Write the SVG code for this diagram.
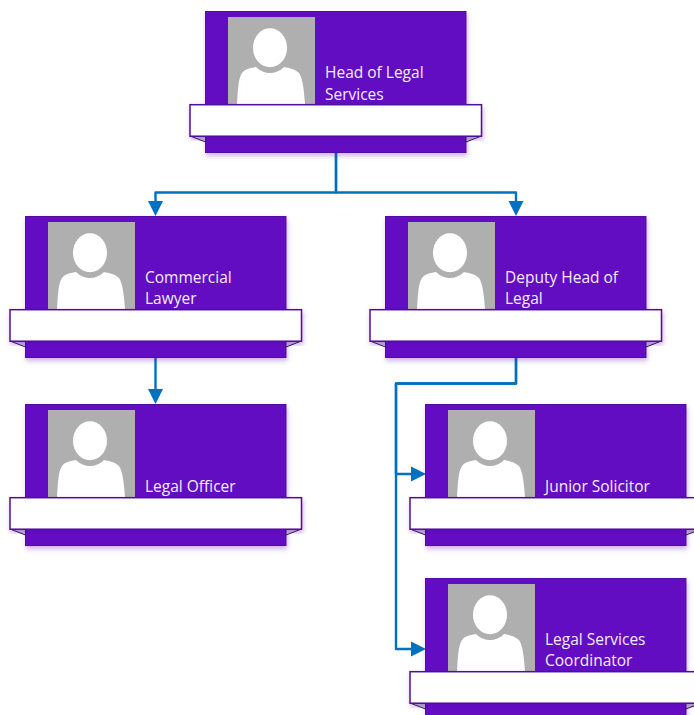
<svg xmlns="http://www.w3.org/2000/svg" width="694" height="715" viewBox="0 0 694 715">
<style>
.card{fill:#6311C2;stroke:#53109F;stroke-width:1}
.photo{fill:#AFAFAF}
.person{fill:#fff;filter:url(#soft)}
.ribbon{fill:#fff;stroke:#4F0F9C;stroke-width:1.5}
.fold{fill:#C9C4D2;stroke:#2E1A5C;stroke-width:1}
.label{font-family:"Open Sans","Noto Sans",sans-serif;font-size:15.5px;fill:#F3ECFF}
.conn{fill:none;stroke:#0070C0;stroke-width:2.4;stroke-linejoin:round}
</style>
<defs>
<filter id="shadow" x="-10%" y="-10%" width="120%" height="125%"><feDropShadow dx="1" dy="3" stdDeviation="2.5" flood-color="#6110BE" flood-opacity="0.3"/></filter>
<filter id="soft" x="-10%" y="-10%" width="120%" height="120%"><feGaussianBlur stdDeviation="0.6"/></filter>
<marker id="arrow" markerUnits="userSpaceOnUse" markerWidth="15" markerHeight="16" refX="0" refY="8" orient="auto"><path d="M0 0.5L15 8L0 15.5Z" fill="#0070C0"/></marker>
<g id="card">
<rect class="card" x="0.5" y="0.5" width="260.5" height="141" filter="url(#shadow)"/>
<rect class="photo" x="23" y="6" width="87" height="87"/>
<path class="person" d="M32 93C33 80 33 68 37 62C41 57 47 57 51 56C55 60 60 62 65 62C70 62 75 60 79 56C84 57 90 58 94 62C98 68 99 80 100 93Z"/>
<ellipse class="person" cx="65" cy="36.7" rx="17" ry="19.5"/>
<path class="fold" d="M-15 125L0.5 131V125Z"/>
<path class="fold" d="M276.5 125L261 131V125Z"/>
<rect class="ribbon" x="-15" y="93.7" width="291.5" height="31.5" filter="url(#shadow)"/>
</g>
</defs>
<g id="connectors">
<path class="conn" d="M336 152.5V192.5H155.5V201" marker-end="url(#arrow)"/>
<path class="conn" d="M336 152.5V192.5H516V201" marker-end="url(#arrow)"/>
<path class="conn" d="M155.5 357V389" marker-end="url(#arrow)"/>
<path class="conn" d="M516 357V383.5H396V474H411" marker-end="url(#arrow)"/>
<path class="conn" d="M516 357V383.5H396V649H411" marker-end="url(#arrow)"/>
</g>
<g id="node-head" transform="translate(205 11)"><use href="#card"/><text class="label" x="120" y="67">Head of Legal</text><text class="label" x="120" y="89">Services</text></g>
<g id="node-commercial" transform="translate(25 216)"><use href="#card"/><text class="label" x="120" y="67">Commercial</text><text class="label" x="120" y="88">Lawyer</text></g>
<g id="node-deputy" transform="translate(385 216)"><use href="#card"/><text class="label" x="120" y="67">Deputy Head of</text><text class="label" x="120" y="88">Legal</text></g>
<g id="node-officer" transform="translate(25 404)"><use href="#card"/><text class="label" x="120" y="88">Legal Officer</text></g>
<g id="node-junior" transform="translate(425 404)"><use href="#card"/><text class="label" x="120" y="88">Junior Solicitor</text></g>
<g id="node-coordinator" transform="translate(425 578)"><use href="#card"/><text class="label" x="120" y="67">Legal Services</text><text class="label" x="120" y="88">Coordinator</text></g>
</svg>
